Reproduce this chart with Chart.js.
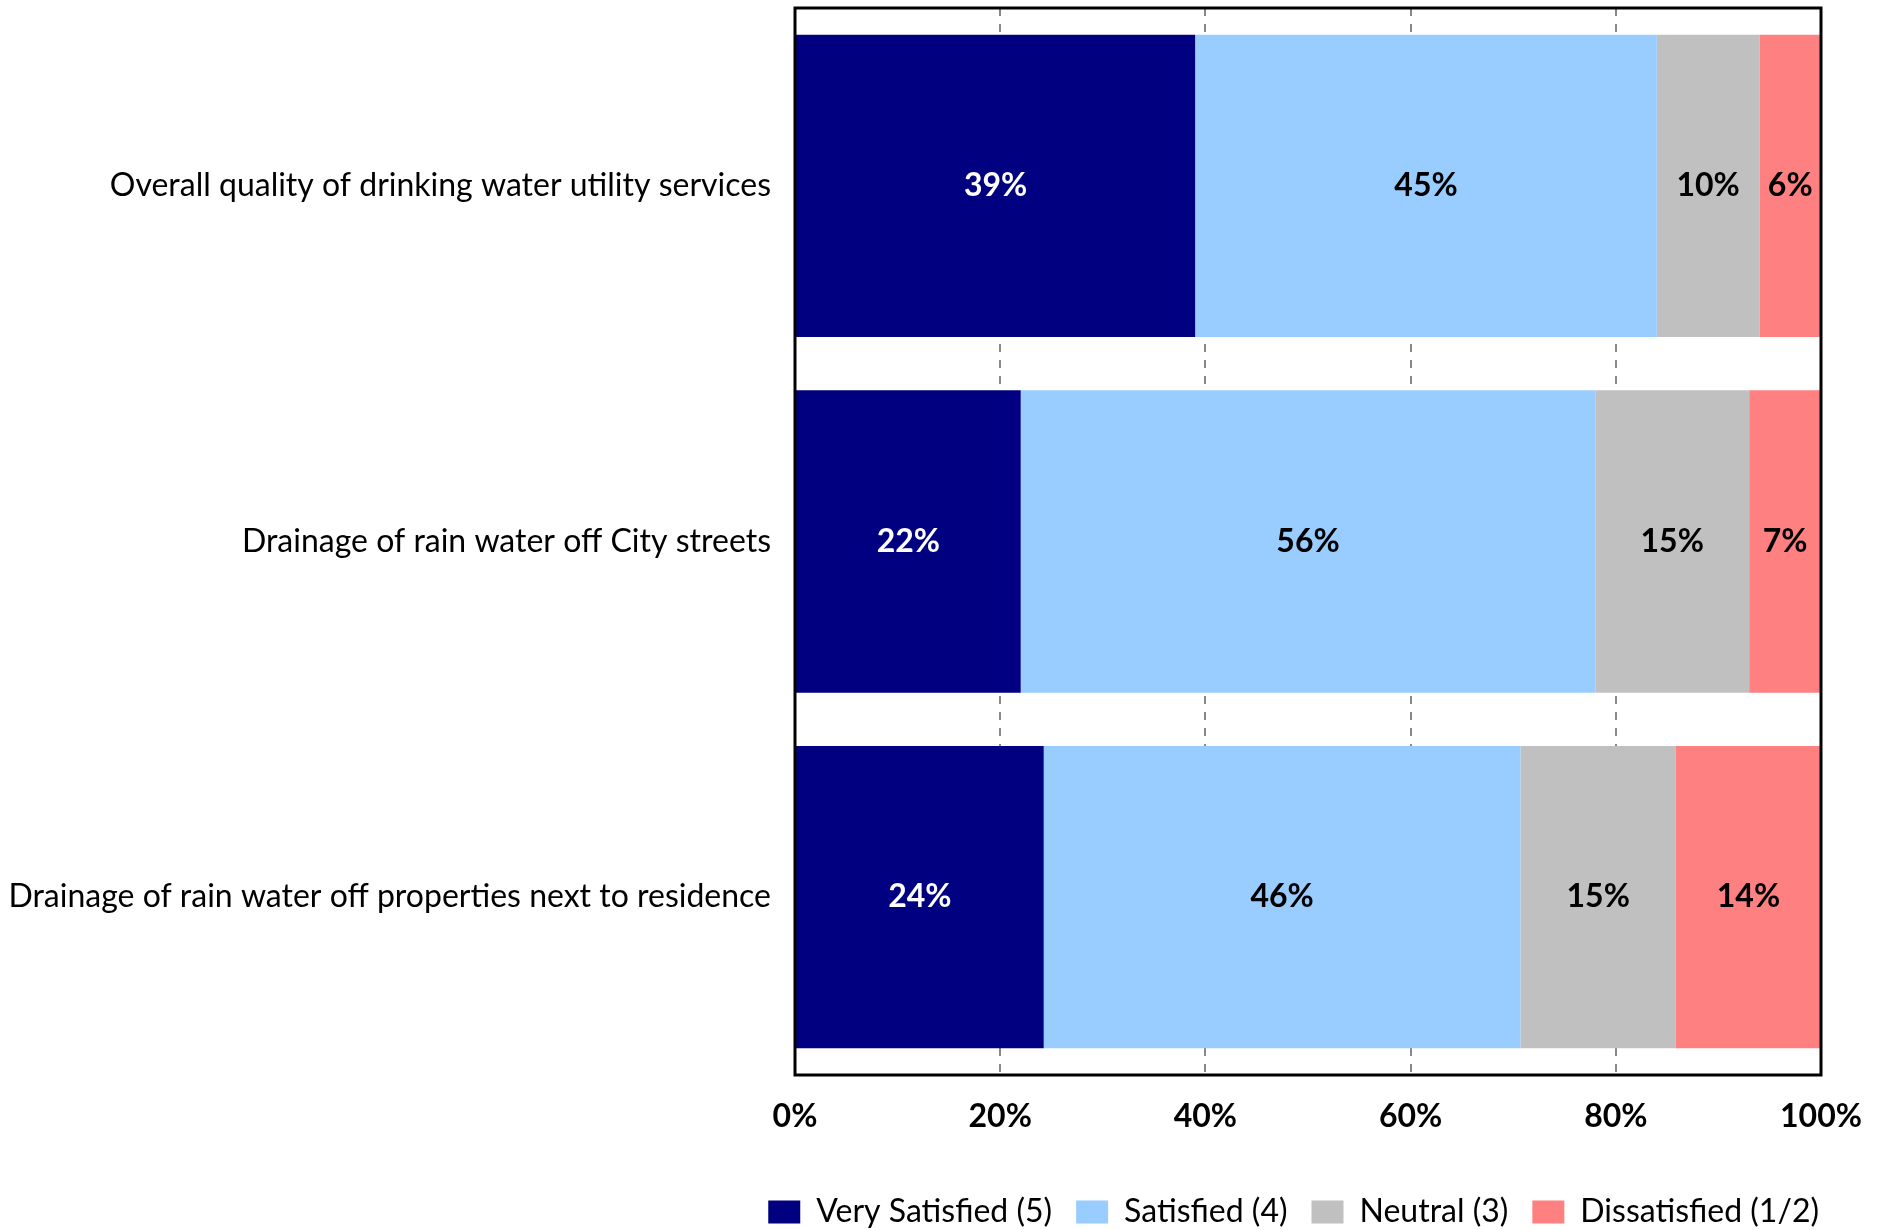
<!DOCTYPE html>
<html>
<head>
<meta charset="utf-8">
<title>Satisfaction with Utility Services</title>
<script src="https://cdn.jsdelivr.net/npm/chart.js@4.4.1/dist/chart.umd.min.js"></script>
<style>
  html, body { margin: 0; padding: 0; background: #ffffff; }
  #wrap { width: 1888px; height: 1230px; }
</style>
</head>
<body>
<div id="wrap"><canvas id="chart" width="1888" height="1230"></canvas></div>
<script>
// Survey items
const categories = [
  'Overall quality of drinking water utility services',
  'Drainage of rain water off City streets',
  'Drainage of rain water off properties next to residence'
];

// Response shares (percent) per item
const verySatisfied = [39, 22, 24];
const satisfied     = [45, 56, 46];
const neutral       = [10, 15, 15];
const dissatisfied  = [6, 7, 14];

const seriesNames = ['Very Satisfied (5)', 'Satisfied (4)', 'Neutral (3)', 'Dissatisfied (1/2)'];
const seriesColors = ['#000080', '#99CCFF', '#C0C0C0', '#FF8080'];
const labelColors  = ['#ffffff', '#000000', '#000000', '#000000'];

const tickLabels = ['0%', '20%', '40%', '60%', '80%', '100%'];

// 100% stacked: each bar is scaled to the total of its row
const allSeries = [verySatisfied, satisfied, neutral, dissatisfied];
const rowTotals = categories.map((_, i) => allSeries.reduce((s, arr) => s + arr[i], 0));
const shareOf = arr => arr.map((v, i) => v / rowTotals[i] * 100);

const datasets = allSeries.map((arr, k) => ({
  label: seriesNames[k],
  data: shareOf(arr),
  rawValues: arr,
  backgroundColor: seriesColors[k],
  borderWidth: 0,
  categoryPercentage: 1.0,
  barPercentage: 0.85,
  valueColor: labelColors[k]
}));

// Writes the stated percentage in the middle of every segment
const segmentLabels = {
  id: 'segmentLabels',
  afterDatasetsDraw(chart) {
    const ctx = chart.ctx;
    ctx.save();
    ctx.font = 'bold 32px Lato';
    ctx.textAlign = 'center';
    ctx.textBaseline = 'middle';
    chart.data.datasets.forEach((ds, di) => {
      const meta = chart.getDatasetMeta(di);
      meta.data.forEach((bar, i) => {
        const c = bar.getCenterPoint();
        ctx.fillStyle = ds.valueColor;
        ctx.fillText(ds.rawValues[i] + '%', c.x, c.y);
      });
    });
    ctx.restore();
  }
};

// Solid frame around the plot area
const plotFrame = {
  id: 'plotFrame',
  afterDatasetsDraw(chart) {
    const a = chart.chartArea;
    const ctx = chart.ctx;
    ctx.save();
    ctx.strokeStyle = '#000000';
    ctx.lineWidth = 3;
    ctx.strokeRect(a.left, a.top, a.right - a.left, a.bottom - a.top);
    ctx.restore();
  }
};

new Chart(document.getElementById('chart'), {
  type: 'bar',
  data: { labels: categories, datasets },
  plugins: [segmentLabels, plotFrame],
  options: {
    indexAxis: 'y',
    responsive: false,
    animation: false,
    layout: { padding: { top: 8, right: 45, bottom: -8, left: 0 } },
    scales: {
      x: {
        stacked: true,
        min: 0,
        max: 100,
        afterFit(scale) { scale.height = 97; },
        afterBuildTicks(scale) {
          scale.ticks = tickLabels.map((_, i) => ({ value: i * 20 }));
        },
        ticks: {
          callback: (v, i) => tickLabels[i],
          color: '#000000',
          font: { family: 'Lato', size: 32, weight: 'bold' },
          padding: 22,
          maxRotation: 0
        },
        grid: {
          color: '#888888',
          lineWidth: 2,
          drawTicks: false
        },
        border: { display: false, dash: [8, 8] }
      },
      y: {
        stacked: true,
        afterFit(scale) {
          scale.width = 795;
          scale.paddingTop = 0;
          scale.paddingBottom = 0;
        },
        ticks: {
          color: '#000000',
          font: { family: 'Lato', size: 32 },
          padding: 24
        },
        grid: { display: false, drawTicks: false },
        border: { display: false }
      },
      yRight: {
        type: 'category',
        position: 'right',
        afterFit(scale) { scale.width = 22; },
        ticks: { display: false },
        grid: { display: false, drawTicks: false },
        border: { display: false }
      }
    },
    plugins: {
      legend: {
        position: 'bottom',
        align: 'end',
        labels: {
          color: '#000000',
          font: { family: 'Lato', size: 32 },
          boxWidth: 32,
          boxHeight: 23,
          padding: 24
        }
      },
      tooltip: { enabled: false }
    }
  }
});
</script>
</body>
</html>
